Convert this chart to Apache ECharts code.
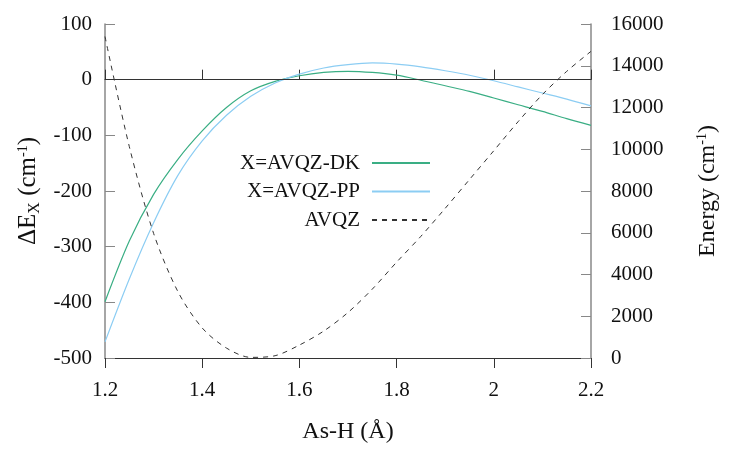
<!DOCTYPE html>
<html>
<head>
<meta charset="utf-8">
<script src="https://cdn.jsdelivr.net/npm/echarts@6/dist/echarts.min.js"></script>
<style>
  html, body { margin: 0; padding: 0; background: #fff; }
  #main { width: 747px; height: 449px; }
</style>
</head>
<body>
<div id="main"></div>
<script>
// bond length As-H (Å)
var rValues = [1.20, 1.25, 1.30, 1.35, 1.40, 1.45, 1.50, 1.55, 1.60, 1.65, 1.70,
               1.75, 1.80, 1.85, 1.90, 1.95, 2.00, 2.05, 2.10, 2.15, 2.20];
// ΔE_X (cm-1), left axis
var dkValues = [-399, -290, -206, -143, -92, -50, -20, -3, 7, 13, 15,
                13, 8, -1, -11, -21, -33, -45, -57, -70, -82];
var ppValues = [-471, -358, -257, -172, -110, -64, -30, -6, 10, 21, 27,
                30, 28, 23, 16, 8, -2, -13, -24, -35, -47];
// AVQZ potential energy (cm-1), right axis
var avqzValues = [15400, 10130, 5970, 3180, 1440, 475, 30, 110, 620, 1290, 2180,
                  3300, 4590, 5830, 7170, 8550, 9930, 11320, 12620, 13730, 14690];

var xTicks = { min: 1.2, max: 2.2, interval: 0.2 };
var leftTicks = { min: -500, max: 100, interval: 100 };
var rightTicks = { min: 0, max: 16000, interval: 2000 };

var seriesNames = ['X=AVQZ-DK', 'X=AVQZ-PP', 'AVQZ'];
var FONT = 'Liberation Serif';

function pairs(xs, ys) {
    var out = [];
    for (var i = 0; i < xs.length; i++) {
        out.push([xs[i], ys[i]]);
    }
    return out;
}

var myChart = echarts.init(document.getElementById('main'), null, { renderer: 'canvas' });

var option = {
    animation: false,
    backgroundColor: '#fff',
    textStyle: { fontFamily: FONT },
    grid: { left: 105, right: 156, top: 24, bottom: 90 },
    legend: {
        data: seriesNames,
        orient: 'vertical',
        left: 210,
        top: 152,
        padding: 0,
        align: 'right',
        itemWidth: 58,
        itemHeight: 14,
        itemGap: 6.5,
        itemStyle: { opacity: 0 },
        textStyle: {
            fontFamily: FONT,
            fontSize: 21,
            color: '#111',
            width: 150,
            align: 'right',
            lineHeight: 22,
            padding: [0, 7, 0, 0]
        }
    },
    xAxis: [
        {
            type: 'value',
            min: xTicks.min,
            max: xTicks.max,
            interval: xTicks.interval,
            name: 'As-H (Å)',
            nameLocation: 'middle',
            nameGap: 62,
            nameTextStyle: { fontFamily: FONT, fontSize: 24, color: '#111' },
            axisLine: { show: true, lineStyle: { color: '#333', width: 1 } },
            axisTick: { show: true, inside: true, length: 10, lineStyle: { color: '#333' } },
            axisLabel: { fontFamily: FONT, fontSize: 21, color: '#111', margin: 22 },
            splitLine: { show: false }
        },
        {
            type: 'value',
            position: 'top',
            min: xTicks.min,
            max: xTicks.max,
            interval: xTicks.interval,
            axisLine: { show: true, lineStyle: { color: '#333', width: 1 } },
            axisTick: { show: true, inside: true, length: 10, lineStyle: { color: '#333' } },
            axisLabel: { show: false },
            splitLine: { show: false }
        }
    ],
    yAxis: [
        {
            type: 'value',
            min: leftTicks.min,
            max: leftTicks.max,
            interval: leftTicks.interval,
            name: 'ΔE{sub|X} (cm{sup|-1})',
            nameLocation: 'middle',
            nameRotate: 90,
            nameGap: 60,
            nameTextStyle: {
                fontFamily: FONT,
                fontSize: 25,
                color: '#111',
                rich: {
                    sub: { fontFamily: FONT, fontSize: 16, padding: [12, 0, 0, 0], color: '#111' },
                    sup: { fontFamily: FONT, fontSize: 14, padding: [0, 0, 11, 0], color: '#111' }
                }
            },
            axisLine: { show: true, lineStyle: { color: '#888', width: 1.5 } },
            axisTick: { show: true, inside: true, length: 10, lineStyle: { color: '#888' } },
            axisLabel: { fontFamily: FONT, fontSize: 21, color: '#111', margin: 13 },
            splitLine: { show: false }
        },
        {
            type: 'value',
            position: 'right',
            min: rightTicks.min,
            max: rightTicks.max,
            interval: rightTicks.interval,
            name: 'Energy (cm{sup|-1})',
            nameLocation: 'middle',
            nameRotate: 90,
            nameGap: 104,
            nameTextStyle: {
                fontFamily: FONT,
                fontSize: 24,
                color: '#111',
                rich: {
                    sup: { fontFamily: FONT, fontSize: 14, padding: [0, 0, 11, 0], color: '#111' }
                }
            },
            axisLine: { show: true, lineStyle: { color: '#888', width: 1.5 } },
            axisTick: { show: true, inside: true, length: 10, lineStyle: { color: '#888' } },
            axisLabel: {
                fontFamily: FONT,
                fontSize: 21,
                color: '#111',
                margin: 20,
                formatter: function (v) { return String(v); }
            },
            splitLine: { show: false }
        }
    ],
    series: [
        {
            name: seriesNames[0],
            type: 'line',
            xAxisIndex: 0,
            yAxisIndex: 0,
            data: pairs(rValues, dkValues),
            smooth: 0.3,
            symbol: 'none',
            lineStyle: { color: '#3aae84', width: 1.2 },
            itemStyle: { color: '#3aae84' },
            markLine: {
                silent: true,
                symbol: 'none',
                label: { show: false },
                lineStyle: { color: '#333', type: 'solid', width: 1 },
                data: [{ yAxis: 0 }]
            }
        },
        {
            name: seriesNames[1],
            type: 'line',
            xAxisIndex: 0,
            yAxisIndex: 0,
            data: pairs(rValues, ppValues),
            smooth: 0.3,
            symbol: 'none',
            lineStyle: { color: '#8ccdf3', width: 1.2 },
            itemStyle: { color: '#8ccdf3' }
        },
        {
            name: seriesNames[2],
            type: 'line',
            xAxisIndex: 0,
            yAxisIndex: 1,
            data: pairs(rValues, avqzValues),
            smooth: 0.3,
            symbol: 'none',
            lineStyle: { color: '#333', width: 1, type: [5, 5] },
            itemStyle: { color: '#333' }
        }
    ]
};
myChart.setOption(option);
</script>
</body>
</html>
